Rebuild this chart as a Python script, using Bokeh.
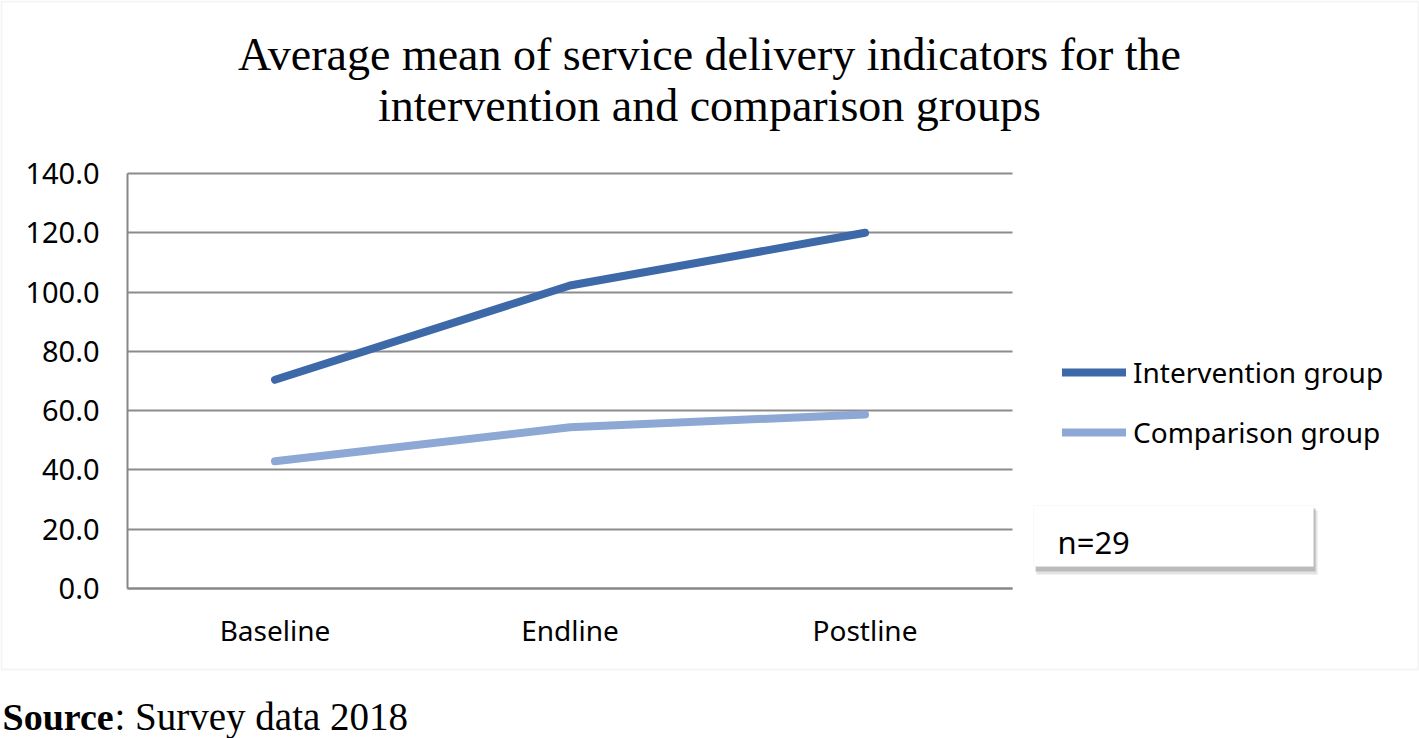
from bokeh.plotting import figure
from bokeh.models import (Label, BoxAnnotation, Legend, LegendItem, FixedTicker,
                          Range1d, PrintfTickFormatter, LinearAxis, Grid)
from bokeh.embed import file_html
from bokeh.resources import INLINE

# ---- data ----
categories = ["Baseline", "Endline", "Postline"]
intervention = [70.4, 102.2, 120.0]
comparison = [42.9, 54.4, 58.7]
y_ticks = [0, 20, 40, 60, 80, 100, 120, 140]
series_names = ["Intervention group", "Comparison group"]
title_lines = ["Average mean of service delivery indicators for the",
               "intervention and comparison groups"]
note_text = "n=29"
source_bold = "Source"
source_rest = ": Survey data 2018"

# ---- layout (pixels) ----
W, H = 1419, 738
PL, PR, PT, PB = 127, 1012, 173, 588      # plot area in canvas pixels
Y0, Y1 = 0, 140
slot = (PR - PL) / len(categories)
ppu = (PB - PT) / (Y1 - Y0)

SANS = "Noto Sans"
SERIF = "Liberation Serif"
FS = "28px"

x_pos = [i + 0.5 for i in range(len(categories))]

p = figure(width=W, height=H, output_backend="svg", toolbar_location=None,
           x_axis_type=None, y_axis_type=None,
           x_range=Range1d(-PL / slot, (W - PL) / slot),
           y_range=Range1d(Y0 - (H - PB) / ppu, Y1 + PT / ppu),
           min_border=0)
p.title.text = ""
p.outline_line_color = None
p.background_fill_color = "white"
p.border_fill_color = "white"
p.grid.visible = False

yaxis = LinearAxis(fixed_location=0, bounds=(Y0, Y1),
                   ticker=FixedTicker(ticks=y_ticks),
                   formatter=PrintfTickFormatter(format="%.1f"))
xaxis = LinearAxis(fixed_location=0, bounds=(0, len(categories)),
                   ticker=FixedTicker(ticks=x_pos),
                   major_label_overrides={x: c for x, c in zip(x_pos, categories)})
for ax in (xaxis, yaxis):
    ax.axis_line_color = "#878787"
    ax.axis_line_width = 2
    ax.major_tick_line_color = None
    ax.minor_tick_line_color = None
    ax.major_tick_in = 0
    ax.major_tick_out = 0
    ax.major_label_text_font = SANS
    ax.major_label_text_color = "black"
yaxis.major_label_text_font_size = "29px"
xaxis.major_label_text_font_size = FS
yaxis.major_label_standoff = 28
xaxis.major_label_standoff = 22

p.add_layout(Grid(dimension=1, ticker=FixedTicker(ticks=y_ticks),
                  cross_bounds=(0, len(categories)),
                  grid_line_color="#8c8c8c", grid_line_width=2))
p.add_layout(yaxis, "left")
p.add_layout(xaxis, "below")

r1 = p.line(x=x_pos, y=intervention, line_width=8, line_color="#3D69A9",
            line_cap="round", line_join="round")
r2 = p.line(x=x_pos, y=comparison, line_width=8, line_color="#8DA8D4",
            line_cap="round", line_join="round")

legend = Legend(items=[LegendItem(label=series_names[0], renderers=[r1]),
                       LegendItem(label=series_names[1], renderers=[r2])],
                location=(1062, 287), glyph_width=64, glyph_height=34,
                label_height=34, label_standoff=7, spacing=22, padding=0, margin=0,
                border_line_color=None, background_fill_alpha=0,
                label_text_font=SANS, label_text_font_size=FS,
                label_text_color="black")
p.add_layout(legend, "center")

def sbox(l, r, t, b, **kw):
    return BoxAnnotation(left=l, right=r, top=t, bottom=b,
                         left_units="screen", right_units="screen",
                         top_units="screen", bottom_units="screen", **kw)

# outer border
p.add_layout(sbox(1, 1418, 737, 69, fill_alpha=0, line_color="#d9d9d9", line_width=2))

# n=29 box with shadow
p.add_layout(sbox(1036, 1317, 228, 164, fill_color="#c8c8c8", fill_alpha=0.5, line_color=None))
p.add_layout(sbox(1035, 1315, 230, 167, fill_color="#a0a0a0", fill_alpha=0.6, line_color=None))
p.add_layout(sbox(1033, 1313, 233, 172, fill_color="white", fill_alpha=1,
                  line_color="#ececec", line_width=1))
p.add_layout(Label(x=1057, y=197, x_units="screen", y_units="screen", text=note_text,
                   text_font=SANS, text_font_size="31px", text_color="black",
                   text_baseline="alphabetic"))

# title
for txt, yy in zip(title_lines, [684, 633]):
    p.add_layout(Label(x=709, y=yy, x_units="screen", y_units="screen", text=txt,
                       text_font=SERIF, text_font_size="46px", text_color="black",
                       text_align="center", text_baseline="alphabetic"))

# source
p.add_layout(Label(x=2, y=22, x_units="screen", y_units="screen", text=source_bold,
                   text_font=SERIF, text_font_size="38px", text_font_style="bold",
                   text_color="black", text_baseline="alphabetic"))
p.add_layout(Label(x=114, y=22, x_units="screen", y_units="screen", text=source_rest,
                   text_font=SERIF, text_font_size="39px",
                   text_color="black", text_baseline="alphabetic"))

open("out.html", "w").write(file_html(p, INLINE))
